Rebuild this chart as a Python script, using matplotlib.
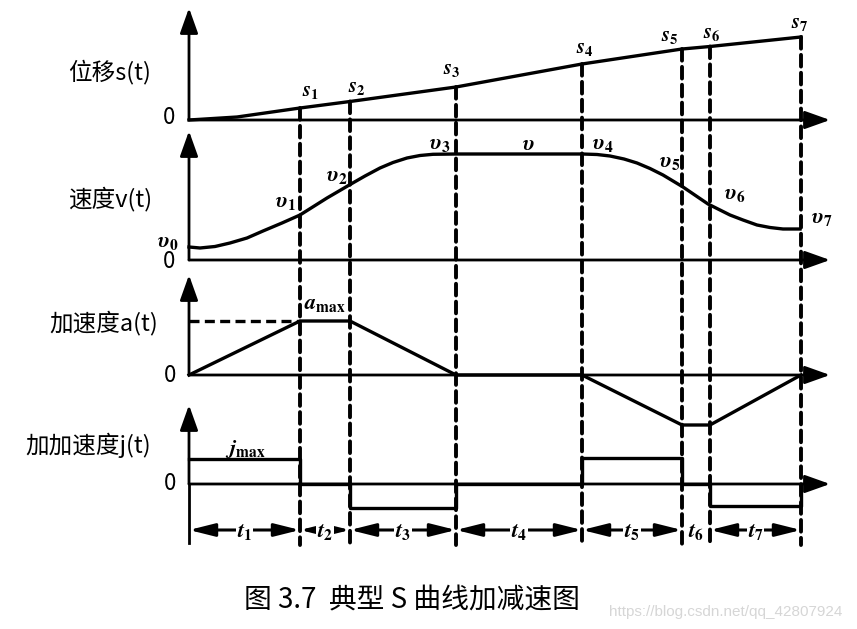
import numpy as np
import matplotlib
matplotlib.use("Agg")
import matplotlib.pyplot as plt
from matplotlib.patches import ConnectionPatch

plt.rcParams['font.family'] = ['Noto Sans CJK SC', 'DejaVu Sans']
plt.rcParams['mathtext.fontset'] = 'custom'
plt.rcParams['mathtext.it'] = 'STIXGeneral:italic:bold'
plt.rcParams['mathtext.rm'] = 'STIXGeneral:bold'

# phase boundaries t0..t7 (arbitrary time units)
T = [0, 11.1, 16.1, 26.7, 39.3, 49.3, 52.1, 61.2]

# displacement s(t)
s_t = [0, 4.8, 11.1, 16.1, 26.7, 39.3, 49.3, 52.1, 61.2]
s_v = [0, 0.3, 1.2, 1.85, 3.3, 5.6, 7.1, 7.35, 8.3]

# velocity v(t)
v_t = [0, 1.1, 2.6, 4.1, 5.8, 7.4, 9.3, 11.1, 13.8, 16.2, 17.6, 19.1, 20.4,
       21.8, 23.1, 24.4, 26.7, 39.3, 40.8, 42.1, 43.5, 44.8, 46.1, 47.4,
       49.4, 51.9, 53.1, 54.1, 55.4, 56.8, 58.1, 59.4, 61.1]
v_v = [1.3, 1.2, 1.35, 1.7, 2.2, 2.9, 3.7, 4.5, 6.2, 7.6, 8.4, 9.2, 9.75,
       10.2, 10.45, 10.57, 10.6, 10.6, 10.55, 10.4, 10.1, 9.7, 9.15, 8.5,
       7.3, 5.6, 5.0, 4.5, 4.0, 3.5, 3.25, 3.1, 3.1]

# acceleration a(t)
a_v = [0, 5.4, 5.4, 0, 0, -5.0, -5.0, 0]

# jerk j(t), piecewise constant
j_v = [2.5, 0, -2.4, 0, 2.6, 0, -2.2, 0]

s_labels = ['$s_1$', '$s_2$', '$s_3$', '$s_4$', '$s_5$', '$s_6$', '$s_7$']
v_labels = [r'$\upsilon_0$', r'$\upsilon_1$', r'$\upsilon_2$', r'$\upsilon_3$',
            r'$\upsilon$', r'$\upsilon_4$', r'$\upsilon_5$', r'$\upsilon_6$',
            r'$\upsilon_7$']
t_labels = ['$t_1$', '$t_2$', '$t_3$', '$t_4$', '$t_5$', '$t_6$', '$t_7$']
names = ['位移s(t)', '速度v(t)', '加速度a(t)', '加加速度j(t)']

W, H = 857, 629
fig = plt.figure(figsize=(8.57, 6.29), dpi=100)


def px(x, y):
    return x / W, 1 - y / H


def panel(top, bottom, base):
    ax = fig.add_axes([189 / W, 1 - bottom / H, (830 - 189) / W, (bottom - top) / H])
    ax.set_xlim(0, 64.1)
    ax.set_ylim((base - bottom) / 10, (base - top) / 10)
    ax.axis('off')
    return ax


def arrow(ax, x0, y0, x1, y1):
    ax.annotate('', xy=(x1, y1), xytext=(x0, y0), annotation_clip=False,
                arrowprops=dict(arrowstyle='-|>,head_length=1.4,head_width=0.5',
                                mutation_scale=11, lw=2, color='k',
                                shrinkA=0, shrinkB=0))


ax_s = panel(5, 125, 120)
ax_v = panel(127, 265, 260)
ax_a = panel(270, 430, 375)
ax_j = panel(400, 550, 484)

# axes with arrows
for ax, tip in [(ax_s, 11.2), (ax_v, 12.9), (ax_a, 10.0), (ax_j, 7.9)]:
    arrow(ax, 0, 0, 0, tip)
    arrow(ax, 0, 0, 64.1, 0)
ax_j.plot([0, 0], [0, -5.9], color='k', lw=2, clip_on=False)

ax_s.plot(s_t, s_v, color='k', lw=2.4, clip_on=False)
ax_v.plot(v_t, v_v, color='k', lw=2.4, clip_on=False)
ax_a.plot(T, a_v, color='k', lw=2.4, clip_on=False)
ax_a.plot([0, T[1]], [a_v[1], a_v[1]], color='k', lw=2.4, ls=(0, (3, 1.6)))
ax_j.plot(T, j_v, color='k', lw=2.4, drawstyle='steps-post', clip_on=False)

# dashed phase boundaries
s_at = np.interp(T, s_t, s_v)
for t, s in zip(T[1:], s_at[1:]):
    con = ConnectionPatch(xyA=(t, s), coordsA=ax_s.transData,
                          xyB=(t, -6.1), coordsB=ax_j.transData,
                          color='k', lw=2.8, linestyle=(0, (3, 1.6)))
    fig.add_artist(con)

# duration arrows
for k in range(7):
    mid = (T[k] + T[k + 1]) / 2
    if k != 5:
        ax_j.annotate('', xy=(T[k], -4.6), xytext=(T[k + 1], -4.6), annotation_clip=False,
                      arrowprops=dict(arrowstyle='<|-|>,head_length=1.4,head_width=0.35',
                                      mutation_scale=11, lw=2.2, color='k',
                                      shrinkA=0, shrinkB=0))
    ax_j.text(mid, -4.6, t_labels[k], ha='center', va='center', fontsize=16,
              bbox=dict(fc='white', ec='none', pad=0.5), zorder=5)

# labels
s_pos = [(310, 90), (357, 86), (452, 68), (585, 47), (670, 35), (712, 32), (800, 22)]
for lab, (x, y) in zip(s_labels, s_pos):
    fig.text(*px(x, y), lab, ha='center', va='center', fontsize=15)
v_pos = [(168, 240), (285, 200), (337, 175), (440, 143), (528, 143), (603, 143),
         (670, 160), (735, 192), (822, 216)]
for lab, (x, y) in zip(v_labels, v_pos):
    fig.text(*px(x, y), lab, ha='center', va='center', fontsize=16)
fig.text(*px(325, 302), r'$a_{\mathrm{max}}$', ha='center', va='center', fontsize=16)
fig.text(*px(245, 449), r'$j_{\mathrm{max}}$', ha='center', va='center', fontsize=16)

for name, (x, y) in zip(names, [(68, 72), (68, 199), (49, 323), (25, 445)]):
    fig.text(*px(x, y), name, ha='left', va='center', fontsize=17)
for x, y in [(169, 118), (169, 262), (170, 375), (170, 484)]:
    fig.text(*px(x, y), '0', ha='center', va='center', fontsize=16)

fig.text(*px(412, 600), '图 3.7  典型 S 曲线加减速图', ha='center', va='center', fontsize=20)
fig.text(*px(726, 612), 'https://blog.csdn.net/qq_42807924', ha='center', va='center',
         fontsize=11, color='#d6d6d6', family='Liberation Sans')

fig.savefig('out.png', dpi=100, facecolor='white')
